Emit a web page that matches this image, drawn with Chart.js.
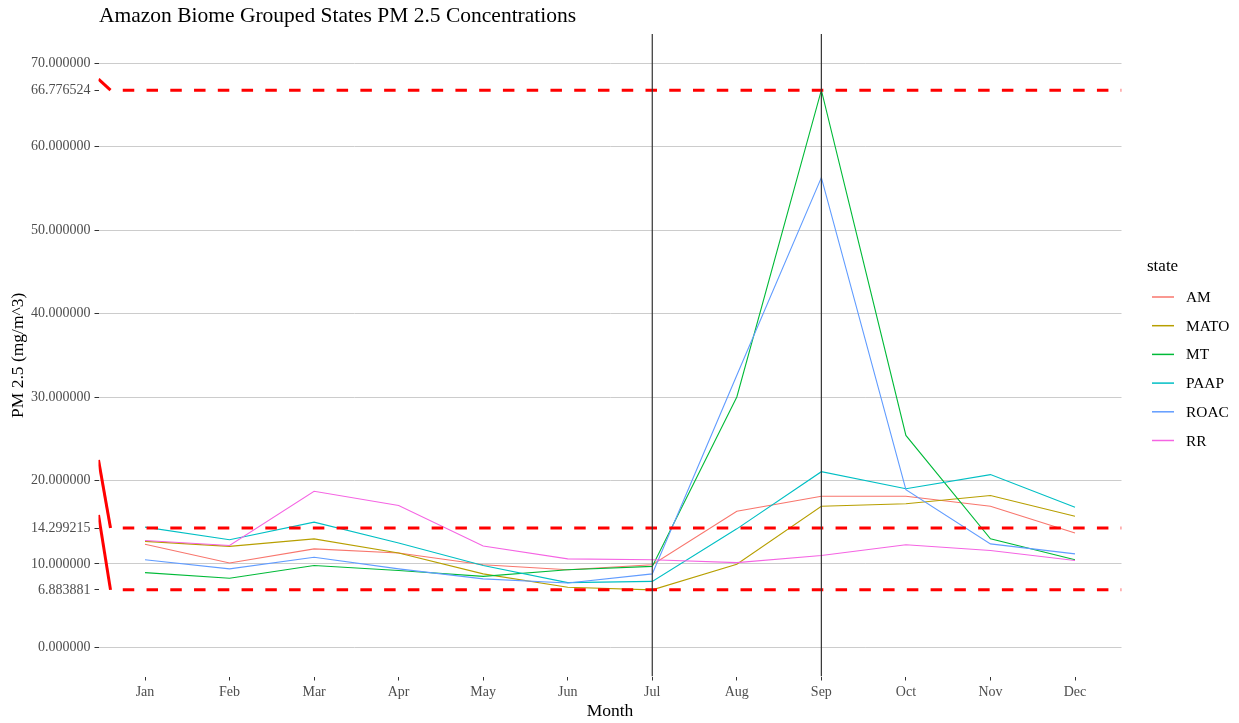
<!DOCTYPE html>
<html lang="en">
  <head>
    <meta charset="UTF-8" />
    <title>Amazon Biome PM 2.5</title>
    <script src="https://cdn.jsdelivr.net/npm/chart.js@4.4.0/dist/chart.umd.min.js"></script>
    <style>
      body {
        margin: 0;
        background: #ffffff;
      }
    </style>
  </head>
  <body>
    <canvas id="myChart" width="1239" height="723"></canvas>
    <script>
      const months = ["Jan", "Feb", "Mar", "Apr", "May", "Jun", "Jul", "Aug", "Sep", "Oct", "Nov", "Dec"];
      const states = ["AM", "MATO", "MT", "PAAP", "ROAC", "RR"];
      const AM = [12.35, 10.1, 11.8, 11.3, 9.9, 9.3, 9.9, 16.3, 18.1, 18.1, 16.9, 13.7];
      const MATO = [12.7, 12.1, 13.0, 11.3, 8.8, 7.2, 6.883881, 9.95, 16.9, 17.2, 18.2, 15.7];
      const MT = [8.95, 8.27, 9.8, 9.2, 8.5, 9.3, 9.7, 30.0, 66.776524, 25.4, 13.0, 10.5];
      const PAAP = [14.4, 12.9, 15.0, 12.5, 9.8, 7.75, 7.9, 14.2, 21.05, 19.0, 20.7, 16.8];
      const ROAC = [10.5, 9.4, 10.8, 9.4, 8.2, 7.7, 8.8, 32.6, 56.3, 18.9, 12.4, 11.2];
      const RR = [12.8, 12.2, 18.7, 17.0, 12.15, 10.6, 10.5, 10.15, 11.0, 12.3, 11.6, 10.4];
      const stateColors = ["#F8766D", "#B79F00", "#00BA38", "#00BFC4", "#619CFF", "#F564E3"];

      // reference lines: min / mean / max, and the two marked months
      const hLines = [6.883881, 14.299215, 66.776524];
      const vLineMonths = ["Jul", "Sep"];
      // red slanted marks at the left edge: [x0, y0, x1, y1]
      const edgeMarks = [
        [0.45, 68.1, 0.592, 66.776524],
        [0.45, 22.45, 0.592, 14.299215],
        [0.45, 15.86, 0.592, 6.883881],
      ];
      const yTicks = [0, 6.883881, 10, 14.299215, 20, 30, 40, 50, 60, 66.776524, 70];

      const xMin = 0.45, xMax = 12.55, yMin = -3.5, yMax = 73.5;
      const serif = '"Liberation Serif", "Times New Roman", serif';

      const series = [AM, MATO, MT, PAAP, ROAC, RR];
      const datasets = [];
      for (let i = 0; i < states.length; i++) {
        datasets.push({
          label: states[i],
          data: series[i].map((v, j) => ({ x: j + 1, y: v })),
          borderColor: stateColors[i],
          borderWidth: 1.1,
          pointRadius: 0,
          tension: 0,
          order: 20 - i,
        });
      }
      hLines.forEach((v) => {
        datasets.push({
          label: "ref",
          data: [{ x: 0.592, y: v }, { x: xMax, y: v }],
          borderColor: "#FF0000",
          borderWidth: 3,
          borderDash: [11.5, 12.26],
          borderDashOffset: 11.5,
          pointRadius: 0,
          order: 1,
        });
      });
      edgeMarks.forEach((m) => {
        datasets.push({
          label: "ref",
          data: [{ x: m[0], y: m[1] }, { x: m[2], y: m[3] }],
          borderColor: "#FF0000",
          borderWidth: 3,
          pointRadius: 0,
          order: 1,
        });
      });
      vLineMonths.forEach((m) => {
        const x = months.indexOf(m) + 1;
        datasets.push({
          label: "ref",
          data: [{ x: x, y: yMin }, { x: x, y: yMax }],
          borderColor: "#333333",
          borderWidth: 1.2,
          pointRadius: 0,
          order: 0,
        });
      });

      const extras = {
        id: "extras",
        afterDraw(chart) {
          const ctx = chart.ctx;
          ctx.save();
          ctx.fillStyle = "#000000";
          ctx.textAlign = "left";
          ctx.textBaseline = "alphabetic";
          ctx.font = "21.5px " + serif;
          ctx.fillText("Amazon Biome Grouped States PM 2.5 Concentrations", 99, 21.5);
          // legend
          ctx.textBaseline = "middle";
          ctx.font = "17px " + serif;
          ctx.fillText("state", 1147, 267);
          ctx.font = "15.4px " + serif;
          for (let i = 0; i < states.length; i++) {
            const y = 297 + i * 28.7;
            ctx.strokeStyle = stateColors[i];
            ctx.lineWidth = 1.5;
            ctx.beginPath();
            ctx.moveTo(1152, y);
            ctx.lineTo(1174, y);
            ctx.stroke();
            ctx.fillText(states[i], 1186, y + 1);
          }
          ctx.restore();
        },
      };

      new Chart(document.getElementById("myChart").getContext("2d"), {
        type: "line",
        data: { datasets: datasets },
        plugins: [extras],
        options: {
          responsive: false,
          animation: false,
          layout: { padding: { left: 0, right: 117.5, top: 34.1, bottom: 0 } },
          plugins: {
            legend: { display: false },
            tooltip: { enabled: false },
          },
          scales: {
            x: {
              type: "linear",
              min: xMin,
              max: xMax,
              afterBuildTicks: (scale) => {
                scale.ticks = months.map((m, i) => ({ value: i + 1 }));
              },
              afterFit: (scale) => {
                scale.height = 46.5;
              },
              border: { display: false },
              grid: { color: "rgba(0,0,0,0)", tickColor: "#333333", tickLength: 4 },
              ticks: {
                autoSkip: false,
                maxRotation: 0,
                padding: 3,
                color: "#4D4D4D",
                font: { family: serif, size: 14 },
                callback: (v) => months[Math.round(v) - 1],
              },
              title: {
                display: true,
                text: "Month",
                color: "#000000",
                font: { family: serif, size: 17.5 },
                padding: { top: 0, bottom: 1.5 },
              },
            },
            y: {
              type: "linear",
              min: yMin,
              max: yMax,
              afterBuildTicks: (scale) => {
                scale.ticks = yTicks.map((v) => ({ value: v }));
              },
              afterFit: (scale) => {
                scale.width = 98.5;
              },
              border: { display: false },
              grid: {
                color: (c) => (c.tick && Math.abs(c.tick.value % 10) < 1e-6 ? "#CCCCCC" : "rgba(0,0,0,0)"),
                tickColor: "#333333",
                tickLength: 4,
                lineWidth: 1,
              },
              ticks: {
                autoSkip: false,
                padding: 4,
                color: "#4D4D4D",
                font: { family: serif, size: 14 },
                callback: (v) => Number(v).toFixed(6),
              },
              title: {
                display: true,
                text: "PM 2.5 (mg/m^3)",
                color: "#000000",
                font: { family: serif, size: 17.5 },
                padding: { top: 7.5, bottom: 0 },
              },
            },
          },
        },
      });
    </script>
  </body>
</html>
